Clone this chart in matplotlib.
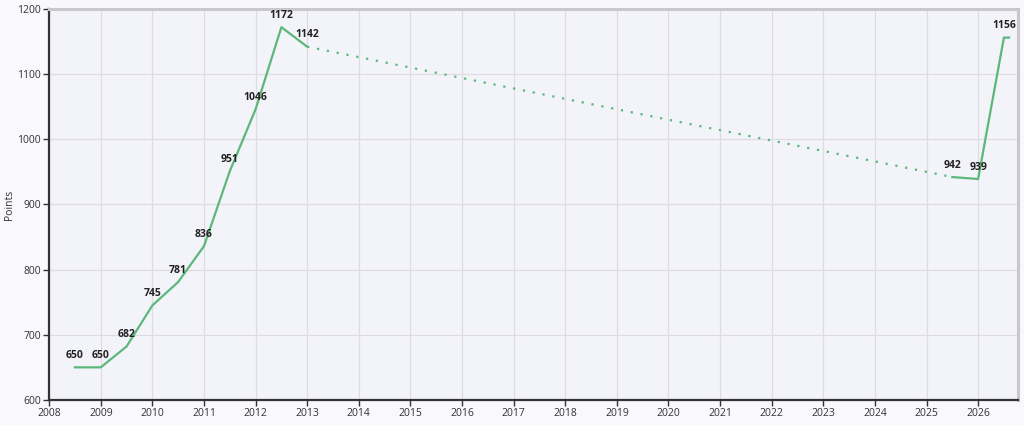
import matplotlib.pyplot as plt

years = [2008.5, 2009, 2009.5, 2010, 2010.5, 2011, 2011.5, 2012, 2012.5, 2013,
         2025.5, 2026, 2026.5]
points = [650, 650, 682, 745, 781, 836, 951, 1046, 1172, 1142, 942, 939, 1156]
tail_year = 2026.6
xticks = list(range(2008, 2027))
yticks = [600, 700, 800, 900, 1000, 1100, 1200]

green = '#5cb87a'
plt.rcParams['font.family'] = ['Open Sans', 'DejaVu Sans']

fig = plt.figure(figsize=(10.24, 4.25), dpi=100, facecolor='#f8f8fd')
ax = fig.add_axes([0.048, 0.059, 0.946, 0.920])
ax.set_facecolor('#f3f3fa')

# solid up to 2013, dotted gap, then solid again
ax.plot(years[:10], points[:10], color=green, lw=1.6)
ax.plot(years[9:11], points[9:11], color=green, lw=1.6, ls=(0, (1, 3.5)))
ax.plot(years[10:] + [tail_year], points[10:] + [points[-1]], color=green, lw=1.6)

for x, y in zip(years, points):
    ax.annotate(str(y), (x, y), xytext=(0, 4.5), textcoords='offset points',
                ha='center', va='bottom', fontsize=7.5, fontweight='bold',
                color='#222222')

ax.set_xlim(2008, 2026.77)
ax.set_ylim(600, 1200)
ax.set_xticks(xticks)
ax.set_yticks(yticks)
ax.tick_params(labelsize=7.5, length=4, width=1, color='#333333', labelcolor='#333333', pad=2)
ax.grid(True, color='#dcdce2', lw=0.9)
ax.set_axisbelow(True)

for s in ['left', 'bottom']:
    ax.spines[s].set_color('#333333')
    ax.spines[s].set_linewidth(1.6)
for s in ['top', 'right']:
    ax.spines[s].set_color('#c8c8cc')
    ax.spines[s].set_linewidth(2.2)

ax.set_ylabel('Points', fontsize=7.5, color='#333333')
ax.yaxis.set_label_coords(-0.035, 0.5)

fig.savefig('out.png', dpi=100, facecolor=fig.get_facecolor())
